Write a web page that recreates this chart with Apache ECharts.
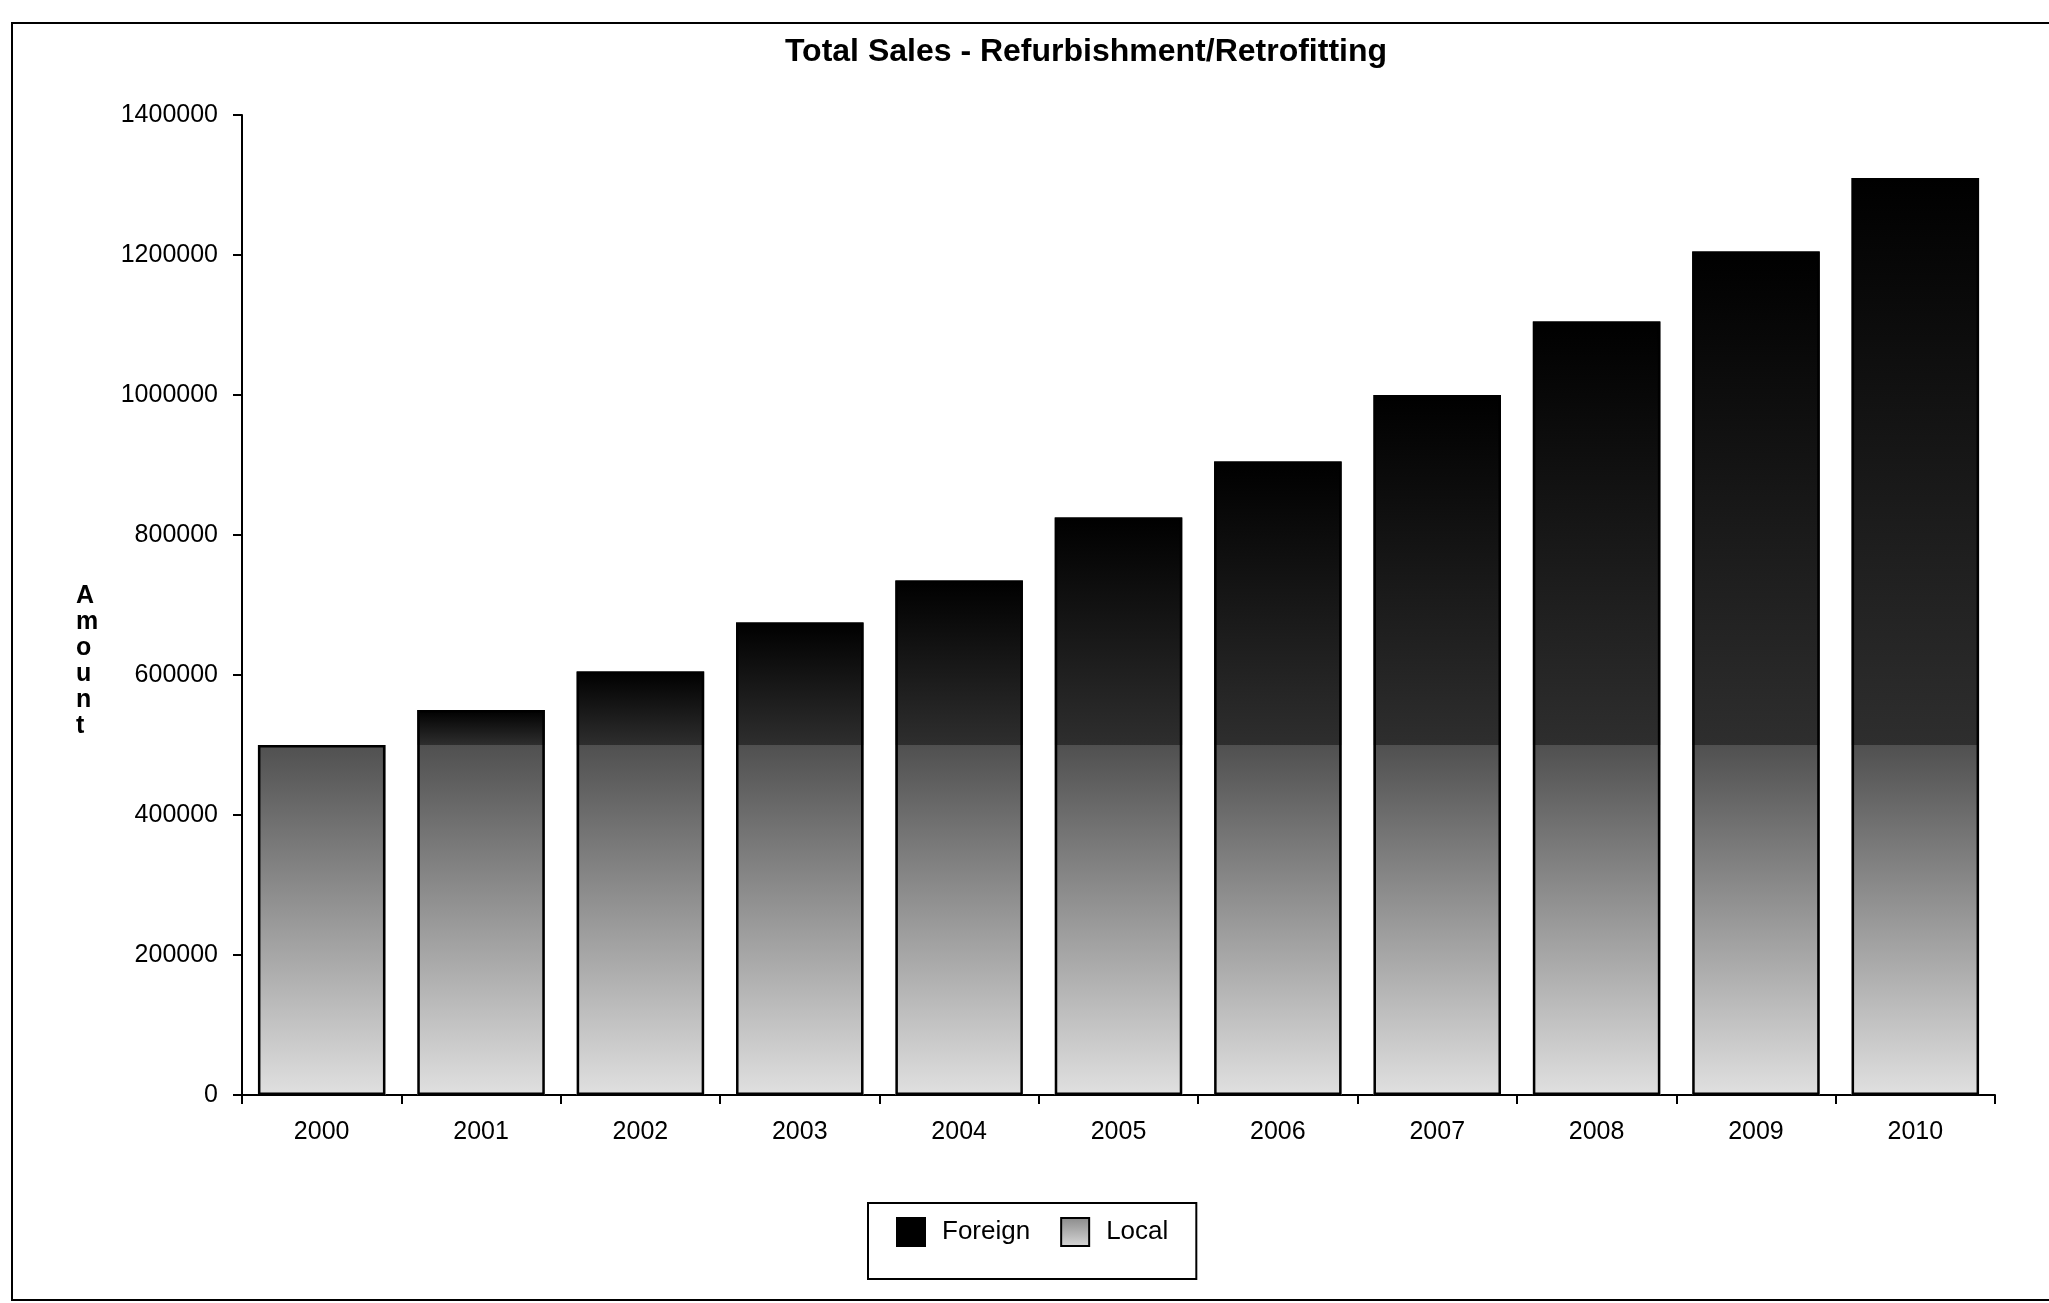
<!DOCTYPE html>
<html>
<head>
<meta charset="utf-8">
<title>Total Sales - Refurbishment/Retrofitting</title>
<script src="https://cdn.jsdelivr.net/npm/echarts@6/dist/echarts.min.js"></script>
<style>
  html, body { margin: 0; padding: 0; background: #ffffff; }
  #chart { width: 2049px; height: 1303px; }
</style>
</head>
<body>
<div id="chart"></div>
<script>
// Sales by year, split into local and foreign buyers
const years = ['2000', '2001', '2002', '2003', '2004', '2005', '2006', '2007', '2008', '2009', '2010'];
const localSales = [500000, 500000, 500000, 500000, 500000, 500000, 500000, 500000, 500000, 500000, 500000];
const foreignSales = [0, 50000, 105000, 175000, 235000, 325000, 405000, 500000, 605000, 705000, 810000];
const yTicks = { min: 0, max: 1400000, step: 200000 };

// combined height of each stacked column, used for its outline
const totalSales = years.map((_, i) => localSales[i] + foreignSales[i]);

const FONT = '"Liberation Sans", Arial, sans-serif';

const chart = echarts.init(document.getElementById('chart'), null, { renderer: 'canvas' });

function vGradient(top, bottom) {
  return new echarts.graphic.LinearGradient(0, 0, 0, 1, [
    { offset: 0, color: top },
    { offset: 1, color: bottom }
  ]);
}

chart.setOption({
  backgroundColor: '#ffffff',
  animation: false,
  title: {
    text: 'Total Sales - Refurbishment/Retrofitting',
    left: 1081,
    textAlign: 'center',
    top: 31,
    textStyle: { fontFamily: FONT, fontSize: 32, fontWeight: 'bold', color: '#000' }
  },
  legend: {
    data: [
      { name: 'Foreign', itemStyle: { color: '#000', borderColor: '#000', borderWidth: 2 } },
      { name: 'Local', itemStyle: { color: vGradient('#8a8a8a', '#d8d8d8'), borderColor: '#000', borderWidth: 2 } }
    ],
    left: 868,
    top: 1203,
    orient: 'horizontal',
    icon: 'rect',
    itemWidth: 28,
    itemHeight: 28,
    itemGap: 30,
    padding: [14, 28, 32, 28],
    borderColor: '#000',
    borderWidth: 2,
    textStyle: { fontFamily: FONT, fontSize: 26, color: '#000', padding: [0, 0, 0, 12] }
  },
  grid: { left: 242, right: 54, top: 115, bottom: 208, containLabel: false },
  xAxis: {
    type: 'category',
    data: years,
    axisLine: { lineStyle: { color: '#000', width: 2 } },
    axisTick: { show: true, alignWithLabel: false, length: 9, lineStyle: { color: '#000', width: 2 } },
    axisLabel: { fontFamily: FONT, fontSize: 25, color: '#000', margin: 25 }
  },
  yAxis: {
    type: 'value',
    min: yTicks.min,
    max: yTicks.max,
    interval: yTicks.step,
    splitLine: { show: false },
    axisLine: { show: true, lineStyle: { color: '#000', width: 2 } },
    axisTick: { show: true, length: 9, lineStyle: { color: '#000', width: 2 } },
    axisLabel: {
      fontFamily: FONT, fontSize: 25, color: '#000', margin: 24,
      formatter: v => String(v)
    }
  },
  graphic: [
    {
      type: 'rect',
      shape: { x: 12, y: 23, width: 2100, height: 1277 },
      style: { fill: 'none', stroke: '#000', lineWidth: 2 },
      silent: true
    },
    {
      type: 'text',
      left: 76,
      top: 583,
      style: {
        text: 'A\nm\no\nu\nn\nt',
        fontFamily: FONT,
        fontSize: 25,
        fontWeight: 'bold',
        lineHeight: 26,
        fill: '#000',
        align: 'center'
      }
    }
  ],
  series: [
    {
      name: 'Local',
      type: 'bar',
      stack: 'sales',
      data: localSales,
      barCategoryGap: '20%',
      barGap: '-100%',
      itemStyle: { color: vGradient('#505050', '#e0e0e0') }
    },
    {
      name: 'Foreign',
      type: 'bar',
      stack: 'sales',
      data: foreignSales,
      barCategoryGap: '20%',
      barGap: '-100%',
      itemStyle: { color: vGradient('#000000', '#2e2e2e') }
    },
    {
      name: 'Total',
      type: 'bar',
      data: totalSales,
      barCategoryGap: '20%',
      barGap: '-100%',
      silent: true,
      z: 3,
      itemStyle: { color: 'rgba(0,0,0,0)', borderColor: '#000', borderWidth: 2.5 }
    }
  ]
});
</script>
</body>
</html>
